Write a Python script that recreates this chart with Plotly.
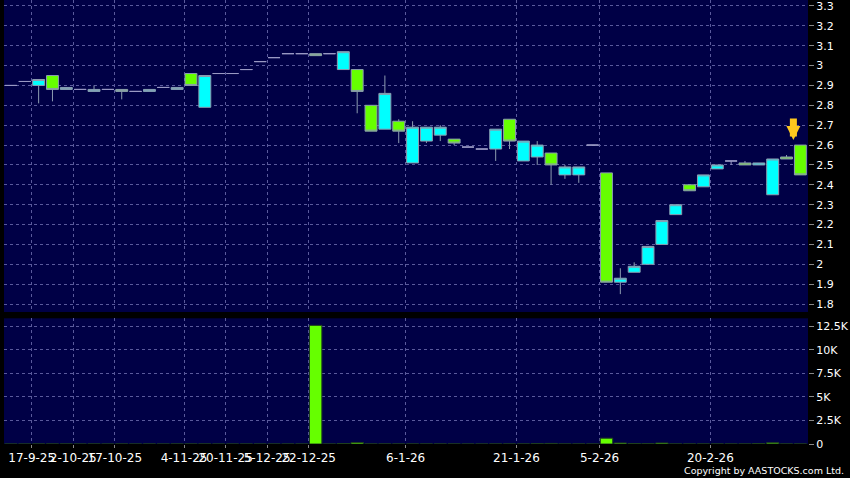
import plotly.graph_objects as go

# ---- data ----
idx = list(range(58))
opens = [2.90, 2.92, 2.90, 2.95, 2.88, 2.88, 2.87, 2.88, 2.88, 2.87,
         2.87, 2.89, 2.88, 2.96, 2.79, 2.96, 2.96, 2.98, 3.02, 3.04,
         3.06, 3.06, 3.06, 3.06, 2.98, 2.98, 2.80, 2.68, 2.72, 2.51,
         2.62, 2.65, 2.63, 2.59, 2.58, 2.58, 2.73, 2.52, 2.54, 2.56,
         2.45, 2.45, 2.60, 2.46, 1.91, 1.96, 2.00, 2.10, 2.25, 2.40,
         2.39, 2.48, 2.52, 2.51, 2.50, 2.35, 2.54, 2.60]
highs = [2.90, 2.92, 2.93, 2.95, 2.89, 2.88, 2.90, 2.88, 2.88, 2.87,
         2.88, 2.89, 2.89, 2.96, 2.95, 2.96, 2.96, 2.98, 3.02, 3.04,
         3.06, 3.06, 3.06, 3.06, 3.07, 2.98, 2.80, 2.95, 2.73, 2.72,
         2.69, 2.70, 2.63, 2.59, 2.58, 2.68, 2.73, 2.62, 2.62, 2.56,
         2.50, 2.49, 2.60, 2.46, 1.98, 2.01, 2.09, 2.22, 2.30, 2.40,
         2.45, 2.50, 2.52, 2.52, 2.51, 2.53, 2.55, 2.60]
lows = [2.90, 2.92, 2.81, 2.82, 2.88, 2.88, 2.87, 2.88, 2.83, 2.87,
        2.87, 2.89, 2.88, 2.90, 2.79, 2.96, 2.96, 2.98, 3.02, 3.04,
        3.06, 3.06, 3.05, 3.06, 2.98, 2.76, 2.67, 2.68, 2.61, 2.51,
        2.61, 2.62, 2.60, 2.59, 2.58, 2.52, 2.58, 2.52, 2.50, 2.40,
        2.43, 2.41, 2.60, 1.91, 1.85, 1.96, 2.00, 2.10, 2.25, 2.37,
        2.39, 2.48, 2.50, 2.50, 2.50, 2.35, 2.53, 2.45]
closes = [2.90, 2.92, 2.93, 2.88, 2.89, 2.88, 2.88, 2.88, 2.87, 2.87,
          2.88, 2.89, 2.89, 2.90, 2.95, 2.96, 2.96, 2.98, 3.02, 3.04,
          3.06, 3.06, 3.05, 3.06, 3.07, 2.87, 2.67, 2.86, 2.67, 2.69,
          2.69, 2.69, 2.61, 2.59, 2.58, 2.68, 2.62, 2.62, 2.60, 2.50,
          2.49, 2.49, 2.60, 1.91, 1.93, 1.99, 2.09, 2.22, 2.30, 2.37,
          2.45, 2.50, 2.52, 2.50, 2.51, 2.53, 2.53, 2.45]
volumes = [0, 0, 10, 10, 10, 0, 10, 0, 10, 0,
           10, 0, 10, 10, 10, 0, 0, 0, 0, 0,
           0, 0, 12600, 0, 40, 150, 10, 10, 10, 10,
           10, 10, 10, 0, 0, 10, 10, 10, 30, 60,
           10, 10, 0, 620, 110, 40, 30, 110, 10, 10,
           10, 10, 10, 10, 40, 120, 10, 10]
date_tick_pos = [1.5, 4.5, 7.5, 12.5, 15.5, 18.5, 21.5, 28.5, 36.5, 42.5, 50.5]
date_tick_text = ["17-9-25", "2-10-25", "17-10-25", "4-11-25", "20-11-25",
                  "5-12-25", "22-12-25", "6-1-26", "21-1-26", "5-2-26", "20-2-26"]
vol_tickvals = [0, 2500, 5000, 7500, 10000, 12500]
vol_ticktext = ["0", "2.5K", "5K", "7.5K", "10K", "12.5K"]

CYAN = "#00ffff"
LIME = "#66ff00"
FLAT = "#9a9ac4"
EDGE = "#8c9cb0"
GRID = "#5a5a9c"
NAVY = "#000046"


def pick(cond):
    sel = [i for i in idx if cond(opens[i], closes[i])]
    return dict(x=[idx[i] for i in sel], open=[opens[i] for i in sel],
                high=[highs[i] for i in sel], low=[lows[i] for i in sel],
                close=[closes[i] for i in sel])


fig = go.Figure()
up = pick(lambda o, c: c > o)
down = pick(lambda o, c: c < o)
flat = pick(lambda o, c: c == o)

fig.add_trace(go.Candlestick(**up, xaxis="x", yaxis="y",
                             increasing=dict(fillcolor=CYAN, line=dict(color=EDGE, width=1)),
                             decreasing=dict(fillcolor=CYAN, line=dict(color=EDGE, width=1)),
                             hoverinfo="skip"))
fig.add_trace(go.Candlestick(**down, xaxis="x", yaxis="y",
                             increasing=dict(fillcolor=LIME, line=dict(color=EDGE, width=1)),
                             decreasing=dict(fillcolor=LIME, line=dict(color=EDGE, width=1)),
                             hoverinfo="skip"))
fig.add_trace(go.Candlestick(**flat, xaxis="x", yaxis="y",
                             increasing=dict(fillcolor=FLAT, line=dict(color=FLAT, width=1)),
                             decreasing=dict(fillcolor=FLAT, line=dict(color=FLAT, width=1)),
                             hoverinfo="skip"))
fig.add_trace(go.Bar(x=idx, y=volumes, xaxis="x2", yaxis="y2",
                     marker=dict(color=LIME, line=dict(color="#1e3c1e", width=1)),
                     hoverinfo="skip"))

grid = dict(showgrid=True, gridcolor=GRID, griddash="3px,3px", gridwidth=1, zeroline=False)

fig.update_layout(
    width=850, height=478,
    margin=dict(l=4, r=42, t=0, b=34, autoexpand=False),
    paper_bgcolor="#000000", plot_bgcolor=NAVY,
    showlegend=False, boxgap=0.14, boxgroupgap=0, bargap=0.1,
    font=dict(family="DejaVu Sans", color="white", size=11),
    xaxis=dict(domain=[0, 1], anchor="y", range=[-0.5, 57.55],
               tickmode="array", tickvals=date_tick_pos, showticklabels=False,
               ticks="", rangeslider=dict(visible=False), **grid),
    xaxis2=dict(domain=[0, 1], anchor="y2", range=[-0.5, 57.55], matches="x",
                tickmode="array", tickvals=date_tick_pos, ticktext=date_tick_text,
                ticks="outside", ticklen=3, tickcolor="#888888", tickangle=0,
                tickfont=dict(size=12, color="white"),
                rangeslider=dict(visible=False), **grid),
    yaxis=dict(domain=[0.2973, 1], anchor="x", side="right", range=[1.76, 3.33],
               tickmode="linear", tick0=1.8, dtick=0.1,
               ticks="outside", ticklen=5, tickcolor="#888888",
               ticklabeloverflow="allow",
               tickfont=dict(size=11, color="white"), **grid),
    yaxis2=dict(domain=[0, 0.2831], anchor="x2", side="right", range=[0, 13350],
                tickmode="array", tickvals=vol_tickvals, ticktext=vol_ticktext,
                ticks="outside", ticklen=5, tickcolor="#888888",
                ticklabeloverflow="allow",
                tickfont=dict(size=11, color="white"), **grid),
    annotations=[
        dict(x=idx[-1], y=highs[-1], xref="x", yref="y", text="",
             showarrow=True, ax=0, ay=-28, arrowhead=2, arrowsize=0.4,
             arrowwidth=7, arrowcolor="#ffc81e", standoff=5, xshift=-7),
        dict(text="Copyright by AASTOCKS.com Ltd.", xref="paper", yref="paper",
             x=(846 - 4) / 804, y=(444 - 470) / 444, xanchor="right", yanchor="middle",
             showarrow=False, font=dict(size=9.5, color="white")),
    ],
)

fig.write_html("out.html", config={"displayModeBar": False},
               post_script="document.body.style.margin='0';")
